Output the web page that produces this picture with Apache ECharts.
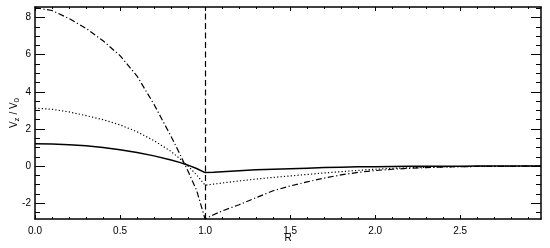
<!DOCTYPE html>
<html><head><meta charset="utf-8">
<script src="https://cdn.jsdelivr.net/npm/echarts@6/dist/echarts.min.js"></script>
<style>html,body{margin:0;padding:0;background:#fff}#c{width:550px;height:248px}</style>
</head><body><div id="c"></div>
<script>
const R = [0,0.1,0.2,0.3,0.4,0.5,0.6,0.7,0.8,0.85,0.9,0.95,1.0,1.05,1.1,1.2,1.3,1.4,1.5,1.6,1.7,1.8,1.9,2.0,2.1,2.2,2.3,2.4,2.5,2.6,2.8,2.975];
const vSolid = [1.2,1.19,1.15,1.09,1.0,0.88,0.73,0.55,0.33,0.2,0.05,-0.13,-0.35,-0.33,-0.3,-0.25,-0.2,-0.17,-0.14,-0.11,-0.08,-0.06,-0.04,-0.03,-0.02,-0.015,-0.01,-0.01,-0.005,0,0,0];
const vDotted = [3.12,3.06,2.92,2.72,2.5,2.22,1.85,1.37,0.79,0.41,0.0,-0.47,-1.03,-0.97,-0.91,-0.8,-0.7,-0.61,-0.53,-0.45,-0.37,-0.3,-0.23,-0.17,-0.12,-0.09,-0.07,-0.05,-0.03,-0.02,-0.01,0];
const vDashDot = [8.53,8.38,7.95,7.42,6.75,5.95,4.85,3.32,1.6,0.68,-0.28,-1.3,-2.85,-2.62,-2.42,-2.08,-1.7,-1.33,-1.07,-0.85,-0.65,-0.47,-0.34,-0.24,-0.17,-0.12,-0.08,-0.05,-0.03,-0.02,-0.01,0];
const boundaryR = 1.0;
const xMin = 0, xMax = 2.975, yMin = -2.85, yMax = 8.57;
const xMajor = [0,0.5,1.0,1.5,2.0,2.5];
const xMinor = [0.1,0.2,0.3,0.4,0.6,0.7,0.8,0.9,1.1,1.2,1.3,1.4,1.6,1.7,1.8,1.9,2.1,2.2,2.3,2.4,2.6,2.7,2.8,2.9];
const yMajor = [-2,0,2,4,6,8];
const yMinor = [-2.5,-1.5,-1,-0.5,0.5,1,1.5,2.5,3,3.5,4.5,5,5.5,6.5,7,7.5,8.5];

const FONT = 'Liberation Sans, Arial, Helvetica, sans-serif';
const pair = (xs, ys) => xs.map((x, i) => [x, ys[i]]);

function xAx(pos, vals, len, labels, line) {
  return {
    type: 'value', position: pos, min: xMin, max: xMax,
    axisLine: {show: line, onZero: false, lineStyle: {color: '#000', width: 1.5}},
    axisTick: {show: true, inside: true, length: len, customValues: vals, lineStyle: {color: '#000', width: 1}},
    axisLabel: labels ? {show: true, customValues: xMajor, formatter: v => v.toFixed(1), color: '#000', fontFamily: FONT, fontSize: 10, margin: 7} : {show: false},
    splitLine: {show: false},
    name: labels ? 'R' : '', nameLocation: 'middle', nameGap: 14, nameMoveOverlap: false,
    nameTextStyle: {color: '#000', fontFamily: FONT, fontSize: 10}
  };
}
function yAx(pos, vals, len, labels, line) {
  return {
    type: 'value', position: pos, min: yMin, max: yMax,
    axisLine: {show: line, onZero: false, lineStyle: {color: '#000', width: 1.5}},
    axisTick: {show: true, inside: true, length: len, customValues: vals, lineStyle: {color: '#000', width: 1}},
    axisLabel: labels ? {show: true, customValues: yMajor, formatter: v => String(v), color: '#000', fontFamily: FONT, fontSize: 10, margin: 4} : {show: false},
    splitLine: {show: false},
    name: labels ? '{a|V}{b|z}{a| / V}{b|0}' : '', nameLocation: 'middle', nameRotate: 90, nameGap: 14, nameMoveOverlap: false,
    nameTextStyle: {color: '#000', fontFamily: FONT, fontSize: 10,
      rich: {a: {fontFamily: FONT, fontSize: 10, color: '#000', lineHeight: 14},
             b: {fontFamily: FONT, fontSize: 8, color: '#000', lineHeight: 14, verticalAlign: 'bottom', padding: [6, 0, 0, 0]}}}
  };
}

const chart = echarts.init(document.getElementById('c'), null, {renderer: 'canvas'});
chart.setOption({
  animation: false,
  backgroundColor: '#fff',
  grid: {left: 35, right: 9, top: 7, bottom: 29, containLabel: false, outerBoundsMode: 'none'},
  xAxis: [xAx('bottom', xMajor, 4, true, true), xAx('bottom', xMinor, 2, false, false),
          xAx('top', xMajor, 4, false, true), xAx('top', xMinor, 2, false, false)],
  yAxis: [yAx('left', yMajor, 10, true, true), yAx('left', yMinor, 5, false, false),
          yAx('right', yMajor, 10, false, true), yAx('right', yMinor, 5, false, false)],
  series: [
    {type: 'line', data: pair(R, vSolid), showSymbol: false, symbol: 'none', lineStyle: {color: '#000', width: 1.5}, z: 3,
     markLine: {silent: true, symbol: 'none', label: {show: false}, lineStyle: {color: '#000', width: 1.2, type: [6, 3.5]}, data: [{xAxis: boundaryR}]}},
    {type: 'line', data: pair(R, vDotted), showSymbol: false, symbol: 'none', lineStyle: {color: '#000', width: 1.2, type: [1.2, 2.2]}},
    {type: 'line', data: pair(R, vDashDot), showSymbol: false, symbol: 'none', lineStyle: {color: '#000', width: 1.2, type: [6, 2.5, 1.2, 2.5]}}
  ]
});
</script></body></html>
